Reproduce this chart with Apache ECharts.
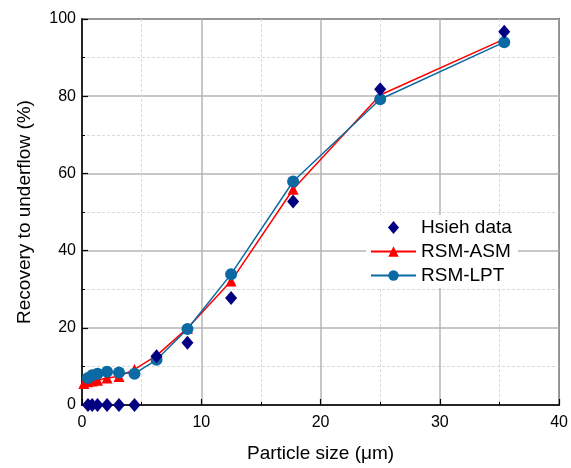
<!DOCTYPE html>
<html>
<head>
<meta charset="utf-8">
<script src="https://cdn.jsdelivr.net/npm/echarts@6/dist/echarts.min.js"></script>
<style>html,body{margin:0;padding:0;background:#fff;}#c{width:571px;height:468px;}</style>
</head>
<body>
<div id="c"></div>
<script>
// Data
const hsiehX = [0.5, 0.85, 1.3, 2.1, 3.1, 4.4, 6.25, 8.84, 12.5, 17.7, 25, 35.4];
const hsiehY = [0, 0, 0, 0, 0, 0, 12.6, 16.1, 27.7, 52.7, 81.8, 96.7];
const asmX = [0.15, 0.5, 0.85, 1.3, 2.1, 3.1, 4.4, 6.25, 8.84, 12.5, 17.7, 25, 35.4];
const asmY = [5.6, 6.0, 6.2, 6.4, 7.0, 7.4, 9.2, 12.8, 19.9, 32.1, 55.9, 80.3, 94.8];
const lptX = [0.5, 0.85, 1.3, 2.1, 3.1, 4.4, 6.25, 8.84, 12.5, 17.7, 25, 35.4];
const lptY = [7.0, 7.7, 8.1, 8.6, 8.4, 8.1, 11.7, 19.7, 33.9, 57.9, 79.2, 94.0];
const seriesNames = ['Hsieh data', 'RSM-ASM', 'RSM-LPT'];
const xTitle = 'Particle size (μm)';
const yTitle = 'Recovery to underflow (%)';

const zip = (xs, ys) => xs.map((x, i) => [x, ys[i]]);
const FONT = 'Liberation Sans, Arial, sans-serif';
const DIAMOND = 'path://M0,-1 L0.85,0 L0,1 L-0.85,0 Z';

const chart = echarts.init(document.getElementById('c'), null, {renderer: 'canvas'});
const axisCommon = {
  axisLine: {show: true, onZero: false, lineStyle: {color: '#000', width: 1.5}},
  axisTick: {show: true, inside: true, length: 6, lineStyle: {color: '#000', width: 1.2}},
  minorTick: {show: true, splitNumber: 2, length: 3, lineStyle: {color: '#000', width: 1}},
  splitLine: {show: true, lineStyle: {color: '#b5b5b5', width: 1.5}},
  minorSplitLine: {show: true, lineStyle: {color: '#d9d9d9', width: 1, type: [3, 2]}},
  axisLabel: {color: '#000', fontSize: 16, fontFamily: FONT},
  nameTextStyle: {color: '#000', fontSize: 19, fontFamily: FONT}
};
chart.setOption({
  animation: false,
  backgroundColor: '#fff',
  grid: {left: 82, right: 9, top: 19, bottom: 59, show: true, borderColor: '#000', borderWidth: 1.5, containLabel: false},
  xAxis: Object.assign({}, axisCommon, {
    type: 'value', min: 0, max: 40, interval: 10,
    name: xTitle, nameLocation: 'middle', nameGap: 39,
    axisLabel: Object.assign({}, axisCommon.axisLabel, {margin: 10})
  }),
  yAxis: Object.assign({}, axisCommon, {
    type: 'value', min: 0, max: 100, interval: 20,
    name: yTitle, nameLocation: 'middle', nameGap: 48,
    axisLabel: Object.assign({}, axisCommon.axisLabel, {margin: 6})
  }),
  legend: {
    orient: 'vertical', left: 366, top: 215,
    itemWidth: 45, itemHeight: 13, itemGap: 5,
    backgroundColor: '#fff', padding: [3, 6, 3, 4],
    textStyle: {color: '#000', fontSize: 19, fontFamily: FONT},
    data: [{name: seriesNames[0], icon: DIAMOND}, seriesNames[1], seriesNames[2]]
  },
  series: [
    {
      name: seriesNames[1], type: 'line', data: zip(asmX, asmY),
      symbol: 'triangle', symbolSize: 11, showAllSymbol: true,
      itemStyle: {color: '#ff0000'}, lineStyle: {color: '#ff0000', width: 1.5}, z: 3
    },
    {
      name: seriesNames[2], type: 'line', data: zip(lptX, lptY),
      symbol: 'circle', symbolSize: 12, showAllSymbol: true,
      itemStyle: {color: '#0b6aa3'}, lineStyle: {color: '#0b6aa3', width: 1.5}, z: 4
    },
    {
      name: seriesNames[0], type: 'scatter', data: zip(hsiehX, hsiehY),
      symbol: DIAMOND, symbolSize: [12, 14], clip: false,
      itemStyle: {color: '#000080', opacity: 1}, z: 5
    }
  ]
});
</script>
</body>
</html>
